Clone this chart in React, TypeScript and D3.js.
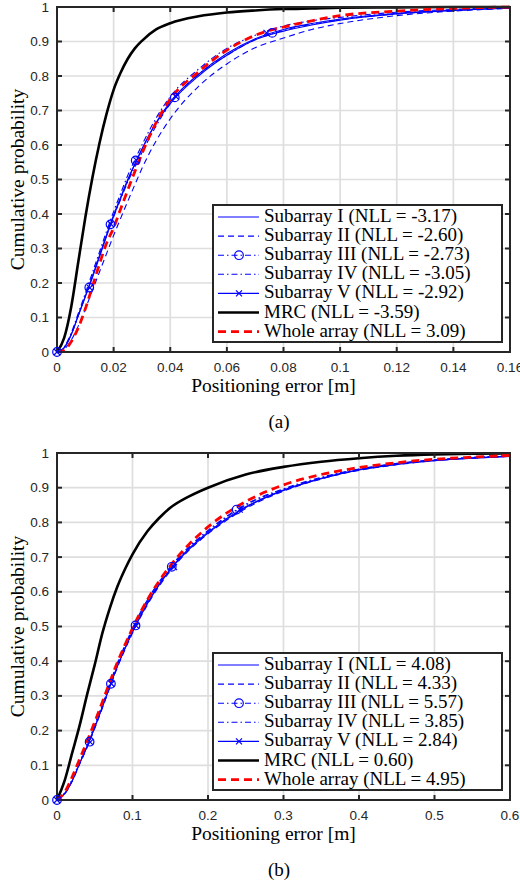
import React, { useEffect, useRef } from "react";
import * as d3 from "d3";

// ---- panel (a) data ----
const xA = [0, 0.0025, 0.005, 0.0075, 0.01, 0.0125, 0.015, 0.0175, 0.02, 0.0225, 0.025, 0.0275, 0.03, 0.035, 0.04, 0.05, 0.06, 0.07, 0.08, 0.09, 0.1, 0.12, 0.14, 0.16];
const subIA = [0, 0.012, 0.05, 0.105, 0.16, 0.215, 0.275, 0.335, 0.393, 0.445, 0.497, 0.545, 0.588, 0.663, 0.72, 0.8, 0.86, 0.905, 0.93, 0.948, 0.962, 0.98, 0.99, 0.997];
const subIIA = [0, 0.008, 0.034, 0.075, 0.125, 0.178, 0.232, 0.285, 0.338, 0.388, 0.437, 0.485, 0.532, 0.612, 0.676, 0.77, 0.835, 0.882, 0.91, 0.935, 0.952, 0.975, 0.988, 0.996];
const subIIIA = [0, 0.013, 0.05, 0.105, 0.162, 0.22, 0.28, 0.338, 0.392, 0.443, 0.493, 0.537, 0.578, 0.655, 0.72, 0.805, 0.86, 0.905, 0.932, 0.95, 0.963, 0.98, 0.99, 0.997];
const subIVA = [0, 0.014, 0.055, 0.112, 0.17, 0.23, 0.29, 0.35, 0.407, 0.46, 0.512, 0.557, 0.6, 0.678, 0.74, 0.82, 0.88, 0.918, 0.945, 0.96, 0.97, 0.985, 0.993, 0.998];
const subVA = [0, 0.012, 0.05, 0.106, 0.162, 0.22, 0.28, 0.34, 0.397, 0.449, 0.5, 0.545, 0.588, 0.665, 0.725, 0.805, 0.865, 0.908, 0.935, 0.952, 0.965, 0.982, 0.991, 0.997];
const mrcA = [0, 0.04, 0.13, 0.26, 0.39, 0.505, 0.605, 0.69, 0.76, 0.81, 0.85, 0.88, 0.902, 0.935, 0.953, 0.973, 0.984, 0.99, 0.994, 0.996, 0.998, 0.999, 1, 1];
const wholeA = [0, 0.005, 0.03, 0.07, 0.125, 0.19, 0.255, 0.315, 0.36, 0.415, 0.47, 0.523, 0.575, 0.665, 0.733, 0.812, 0.875, 0.918, 0.942, 0.96, 0.975, 0.988, 0.996, 1];
const circlesA = [[0, 0], [0.0114, 0.187], [0.0189, 0.37], [0.0278, 0.555], [0.0416, 0.738], [0.076, 0.925]];
const crossesA = [[0, 0], [0.0116, 0.186], [0.019, 0.371], [0.028, 0.556], [0.042, 0.74], [0.074, 0.925]];
const nllA = ["-3.17", "-2.60", "-2.73", "-3.05", "-2.92", "-3.59", "3.09"];
const xTicksA = [0, 0.02, 0.04, 0.06, 0.08, 0.1, 0.12, 0.14, 0.16];

// ---- panel (b) data ----
const xB = [0, 0.01, 0.02, 0.03, 0.04, 0.05, 0.06, 0.07, 0.08, 0.09, 0.1, 0.12, 0.135, 0.15, 0.175, 0.2, 0.25, 0.3, 0.35, 0.4, 0.45, 0.5, 0.55, 0.6];
const subIB = [0, 0.018, 0.055, 0.106, 0.155, 0.21, 0.268, 0.328, 0.386, 0.437, 0.485, 0.568, 0.62, 0.665, 0.725, 0.772, 0.845, 0.893, 0.927, 0.952, 0.968, 0.979, 0.986, 0.991];
const subIIB = [0, 0.017, 0.053, 0.103, 0.152, 0.206, 0.264, 0.324, 0.382, 0.433, 0.481, 0.563, 0.615, 0.66, 0.72, 0.767, 0.84, 0.89, 0.925, 0.95, 0.966, 0.978, 0.985, 0.99];
const subIIIB = [0, 0.019, 0.057, 0.108, 0.158, 0.213, 0.272, 0.332, 0.39, 0.441, 0.49, 0.573, 0.624, 0.668, 0.727, 0.774, 0.85, 0.895, 0.928, 0.953, 0.969, 0.98, 0.987, 0.992];
const subIVB = [0, 0.02, 0.059, 0.11, 0.161, 0.217, 0.276, 0.336, 0.395, 0.446, 0.495, 0.578, 0.628, 0.672, 0.73, 0.777, 0.852, 0.897, 0.93, 0.954, 0.97, 0.98, 0.987, 0.992];
const subVB = [0, 0.018, 0.055, 0.105, 0.155, 0.209, 0.267, 0.327, 0.385, 0.436, 0.484, 0.567, 0.619, 0.663, 0.722, 0.769, 0.843, 0.892, 0.926, 0.951, 0.967, 0.978, 0.985, 0.99];
const mrcB = [0, 0.055, 0.135, 0.215, 0.305, 0.39, 0.48, 0.553, 0.615, 0.665, 0.708, 0.775, 0.812, 0.842, 0.875, 0.9, 0.938, 0.96, 0.975, 0.985, 0.992, 0.996, 0.998, 0.999];
const wholeB = [0, 0.022, 0.066, 0.118, 0.17, 0.225, 0.282, 0.34, 0.397, 0.447, 0.495, 0.578, 0.63, 0.675, 0.737, 0.787, 0.86, 0.908, 0.938, 0.958, 0.972, 0.982, 0.988, 0.993];
const circlesB = [[0, 0], [0.0432, 0.168], [0.0714, 0.335], [0.104, 0.503], [0.152, 0.672], [0.238, 0.837]];
const crossesB = [[0, 0], [0.044, 0.167], [0.072, 0.335], [0.105, 0.502], [0.155, 0.671], [0.242, 0.837]];
const nllB = ["4.08", "4.33", "5.57", "3.85", "2.84", "0.60", "4.95"];
const xTicksB = [0, 0.1, 0.2, 0.3, 0.4, 0.5, 0.6];

const yTicks = [0, 0.1, 0.2, 0.3, 0.4, 0.5, 0.6, 0.7, 0.8, 0.9, 1];
const names = ["Subarray I", "Subarray II", "Subarray III", "Subarray IV", "Subarray V", "MRC", "Whole array"];

const BLUE = "#0000ff";
const styles = [
  { color: BLUE, width: 1.1, dash: null, marker: null },
  { color: BLUE, width: 1.1, dash: "6,4", marker: null },
  { color: BLUE, width: 1.1, dash: "6,3,1.5,3", marker: "circle" },
  { color: BLUE, width: 1.1, dash: "6,3,1.5,3", marker: null },
  { color: BLUE, width: 1.1, dash: null, marker: "cross" },
  { color: "#000000", width: 2.6, dash: null, marker: null },
  { color: "#ff0000", width: 2.8, dash: "8,5", marker: null },
];

const panels = [
  {
    top: 7, bottom: 352, xMax: 0.16, xs: xA, xTicks: xTicksA,
    series: [subIA, subIIA, subIIIA, subIVA, subVA, mrcA, wholeA],
    circles: circlesA, crosses: crossesA, nll: nllA, caption: "(a)",
  },
  {
    top: 453, bottom: 800, xMax: 0.6, xs: xB, xTicks: xTicksB,
    series: [subIB, subIIB, subIIIB, subIVB, subVB, mrcB, wholeB],
    circles: circlesB, crosses: crossesB, nll: nllB, caption: "(b)",
  },
];

const left = 57;
const right = 510;
const AX = "#262626";
const tickFont = "'Liberation Sans', Arial, sans-serif";
const serif = "'Liberation Serif', 'Times New Roman', serif";

function drawMarker(g, kind, cx, cy) {
  if (kind === "circle") {
    g.append("circle").attr("cx", cx).attr("cy", cy).attr("r", 4.3)
      .attr("fill", "none").attr("stroke", BLUE).attr("stroke-width", 1.2);
  } else if (kind === "cross") {
    const s = 3;
    g.append("path")
      .attr("d", `M${cx - s},${cy - s}L${cx + s},${cy + s}M${cx - s},${cy + s}L${cx + s},${cy - s}`)
      .attr("stroke", BLUE).attr("stroke-width", 1.2);
  }
}

const App = () => {
  const svgRef = useRef(null);

  useEffect(() => {
    const svg = d3.select(svgRef.current);
    svg.selectAll("*").remove();

    panels.forEach((p, pi) => {
      const x = d3.scaleLinear().domain([0, p.xMax]).range([left, right]);
      const y = d3.scaleLinear().domain([0, 1]).range([p.bottom, p.top]);
      const g = svg.append("g");

      const clipId = `clip${pi}`;
      g.append("clipPath").attr("id", clipId).append("rect")
        .attr("x", left).attr("y", p.top - 2).attr("width", right - left).attr("height", p.bottom - p.top + 4);

      // grid
      g.selectAll(".gx").data(p.xTicks).enter().append("line")
        .attr("x1", (d) => x(d)).attr("x2", (d) => x(d))
        .attr("y1", p.top).attr("y2", p.bottom)
        .attr("stroke", "#dedede").attr("stroke-width", 1.7);
      g.selectAll(".gy").data(yTicks).enter().append("line")
        .attr("x1", left).attr("x2", right)
        .attr("y1", (d) => y(d)).attr("y2", (d) => y(d))
        .attr("stroke", "#dedede").attr("stroke-width", 1.7);

      // curves
      const curves = g.append("g").attr("clip-path", `url(#${clipId})`);
      p.series.forEach((vals, si) => {
        const st = styles[si];
        const line = d3.line()
          .x((d) => x(d[0]))
          .y((d) => y(d[1]))
          .curve(d3.curveMonotoneX);
        curves.append("path")
          .attr("d", line(p.xs.map((xv, i) => [xv, vals[i]])))
          .attr("fill", "none")
          .attr("stroke", st.color)
          .attr("stroke-width", st.width)
          .attr("stroke-dasharray", st.dash);
      });
      const mk = svg.append("g");
      p.circles.forEach((d) => drawMarker(mk, "circle", x(d[0]), y(d[1])));
      p.crosses.forEach((d) => drawMarker(mk, "cross", x(d[0]), y(d[1])));

      // axes box and ticks
      g.append("rect").attr("x", left).attr("y", p.top)
        .attr("width", right - left).attr("height", p.bottom - p.top)
        .attr("fill", "none").attr("stroke", AX).attr("stroke-width", 2);
      const tl = 5;
      p.xTicks.forEach((t) => {
        g.append("line").attr("x1", x(t)).attr("x2", x(t)).attr("y1", p.bottom).attr("y2", p.bottom - tl)
          .attr("stroke", AX).attr("stroke-width", 2);
        g.append("line").attr("x1", x(t)).attr("x2", x(t)).attr("y1", p.top).attr("y2", p.top + tl)
          .attr("stroke", AX).attr("stroke-width", 2);
        g.append("text").attr("x", x(t)).attr("y", p.bottom + 20)
          .attr("text-anchor", "middle").attr("font-family", tickFont).attr("font-size", 13.5)
          .attr("fill", AX).text(String(t));
      });
      yTicks.forEach((t) => {
        g.append("line").attr("x1", left).attr("x2", left + tl).attr("y1", y(t)).attr("y2", y(t))
          .attr("stroke", AX).attr("stroke-width", 2);
        g.append("line").attr("x1", right).attr("x2", right - tl).attr("y1", y(t)).attr("y2", y(t))
          .attr("stroke", AX).attr("stroke-width", 2);
        g.append("text").attr("x", left - 8).attr("y", y(t) + 4.5)
          .attr("text-anchor", "end").attr("font-family", tickFont).attr("font-size", 13.5)
          .attr("fill", AX).text(String(t));
      });

      // axis labels and caption
      g.append("text").attr("x", (left + right) / 2 - 10).attr("y", p.bottom + 40)
        .attr("text-anchor", "middle").attr("font-family", serif).attr("font-size", 19.5)
        .attr("fill", "#000").text("Positioning error [m]");
      g.append("text")
        .attr("transform", `translate(24,${(p.top + p.bottom) / 2}) rotate(-90)`)
        .attr("text-anchor", "middle").attr("font-family", serif).attr("font-size", 19.5)
        .attr("fill", "#000").text("Cumulative probability");
      g.append("text").attr("x", 279).attr("y", p.bottom + 75.5)
        .attr("text-anchor", "middle").attr("font-family", serif).attr("font-size", 19)
        .attr("fill", "#000").text(p.caption);

      // legend
      const lx = 213, lw = 289, lh = 137;
      const ly = p.bottom - 10 - lh;
      const leg = g.append("g");
      leg.append("rect").attr("x", lx).attr("y", ly).attr("width", lw).attr("height", lh)
        .attr("fill", "#fff").attr("stroke", AX).attr("stroke-width", 2);
      names.forEach((n, i) => {
        const st = styles[i];
        const ry = ly + 12 + i * 19.1;
        leg.append("line").attr("x1", lx + 5).attr("x2", lx + 46).attr("y1", ry).attr("y2", ry)
          .attr("stroke", st.color).attr("stroke-width", st.width).attr("stroke-dasharray", st.dash);
        if (st.marker) drawMarker(leg, st.marker, lx + 26, ry);
        leg.append("text").attr("x", lx + 51).attr("y", ry + 5)
          .attr("font-family", serif).attr("font-size", 19).attr("fill", "#000")
          .text(`${n} (NLL = ${p.nll[i]})`);
      });
    });
  }, []);

  return (
    <svg ref={svgRef} width={520} height={886}
      style={{ position: "absolute", left: 0, top: 0, background: "#fff" }} />
  );
};

export default App;
